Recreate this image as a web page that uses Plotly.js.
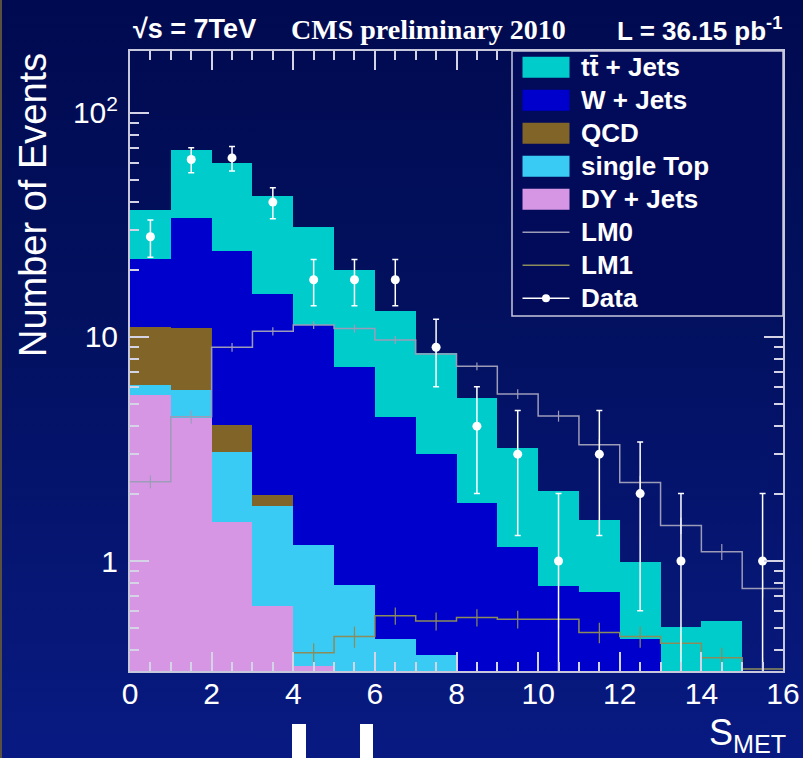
<!DOCTYPE html>
<html>
<head>
<meta charset="utf-8">
<script src="https://cdn.plot.ly/plotly-3.0.1.min.js"></script>
<style>
  html, body { margin: 0; padding: 0; }
  body {
    width: 803px; height: 758px; overflow: hidden;
    background: linear-gradient(to bottom, #000a50 0%, #02105e 40%, #081a82 100%);
    box-shadow: inset 2px 0 0 #5a5040;
  }
  #chart { width: 803px; height: 758px; }
</style>
</head>
<body>
<div id="chart"></div>
<script>
// ---------------- data ----------------
const binLow = [0, 1, 2, 3, 4, 5, 6, 7, 8, 9, 10, 11, 12, 13, 14, 15];
const binEdges = [0, 1, 2, 3, 4, 5, 6, 7, 8, 9, 10, 11, 12, 13, 14, 15, 16];

// stacked MC components (bottom to top)
const dyJets    = [5.5, 4.34, 1.5, 0.63, 0.34, 0, 0, 0, 0, 0, 0, 0, 0, 0, 0, 0];
const singleTop = [0.6, 1.46, 1.58, 1.13, 0.84, 0.78, 0.45, 0.38, 0, 0, 0, 0, 0, 0, 0, 0];
const qcd       = [4.95, 5.2, 0.97, 0.21, 0, 0, 0, 0, 0, 0, 0, 0, 0, 0, 0, 0];
const wJets     = [11.25, 22.9, 20.25, 13.6, 10.1, 6.6, 3.96, 2.61, 1.81, 1.16, 0.77, 0.73, 0.45, 0, 0, 0];
const ttJets    = [14.6, 34.5, 35.3, 27.0, 19.8, 12.6, 8.6, 5.47, 3.52, 2.04, 1.29, 0.79, 0.54, 0.51, 0.54, 0];

// SUSY benchmark points (step lines)
const lm0    = [2.26, 4.4, 9.0, 10.6, 11.3, 10.9, 9.7, 8.4, 7.4, 5.57, 4.44, 3.3, 2.24, 1.44, 1.1, 0.755];
const lm0Err = [0.15, 0.3, 0.4, 0.45, 0.45, 0.45, 0.4, 0.35, 0.3, 0.28, 0.25, 0.2, 0.16, 0.12, 0.09, 0.07];
const lm1    = [0.15, 0.18, 0.22, 0.26, 0.39, 0.46, 0.57, 0.54, 0.56, 0.55, 0.55, 0.48, 0.46, 0.43, 0.37, 0.33];
const lm1Err = [0.02, 0.02, 0.03, 0.03, 0.04, 0.05, 0.05, 0.05, 0.05, 0.05, 0.05, 0.05, 0.05, 0.04, 0.04, 0.04];

// observed data
const dataCounts = [28, 62, 63, 40, 18, 18, 18, 9, 4, 3, 1, 3, 2, 1, 0, 1];
const dataErr    = [5.3, 7.9, 7.9, 6.3, 4.2, 4.2, 4.2, 3.0, 2.0, 1.7, 1.0, 1.7, 1.4, 1.0, 0, 1.0];

// axis ticks
const xTickVals = [0, 2, 4, 6, 8, 10, 12, 14, 16];
const xMinorVals = [0.5, 1, 1.5, 2.5, 3, 3.5, 4.5, 5, 5.5, 6.5, 7, 7.5, 8.5, 9, 9.5, 10.5, 11, 11.5, 12.5, 13, 13.5, 14.5, 15, 15.5];
const yTickVals = [1, 10, 100];
const yTickText = ['1', '10', '10<sup>2</sup>'];
const yMinorVals = [0.4, 0.5, 0.6, 0.7, 0.8, 0.9, 2, 3, 4, 5, 6, 7, 8, 9, 20, 30, 40, 50, 60, 70, 80, 90];

const legendNames = ['tt\u0304 + Jets', 'W + Jets', 'QCD', 'single Top', 'DY + Jets', 'LM0', 'LM1', 'Data'];

// ---------------- styles ----------------
const C = {
  tt: '#00cccc', w: '#0000cc', qcd: '#806428', st: '#3acbf5', dy: '#d696e4',
  lm0: '#9c9cb8', lm1: '#8c8c5a', data: '#ffffff', frame: '#c8c8dc', tick: '#d4d4e6', text: '#ffffff'
};
const SANS = 'Liberation Sans, Arial, Helvetica, sans-serif';
const SERIF = 'Liberation Serif, Times New Roman, serif';

const centers = binLow.map(v => v + 0.5);
const stepY = arr => arr.concat([arr[arr.length - 1]]);

function barTrace(name, y, color) {
  return {
    type: 'bar', name: name, x: centers, y: y, width: 1,
    marker: { color: color, line: { width: 0 } },
    showlegend: false, hoverinfo: 'name+y'
  };
}

const traces = [
  barTrace(legendNames[4], dyJets, C.dy),
  barTrace(legendNames[3], singleTop, C.st),
  barTrace(legendNames[2], qcd, C.qcd),
  barTrace(legendNames[1], wJets, C.w),
  barTrace(legendNames[0], ttJets, C.tt),
  { type: 'scatter', mode: 'lines', name: 'LM0', x: binEdges, y: stepY(lm0),
    line: { shape: 'hv', color: C.lm0, width: 1.5 }, showlegend: false },
  { type: 'scatter', mode: 'markers', name: 'LM0 err', x: centers, y: lm0,
    marker: { size: 1, color: 'rgba(0,0,0,0)' },
    error_y: { type: 'data', array: lm0Err, visible: true, color: C.lm0, thickness: 1.2, width: 0 },
    showlegend: false, hoverinfo: 'skip' },
  { type: 'scatter', mode: 'lines', name: 'LM1', x: binEdges, y: stepY(lm1),
    line: { shape: 'hv', color: C.lm1, width: 1.5 }, showlegend: false },
  { type: 'scatter', mode: 'markers', name: 'LM1 err', x: centers, y: lm1,
    marker: { size: 1, color: 'rgba(0,0,0,0)' },
    error_y: { type: 'data', array: lm1Err, visible: true, color: C.lm1, thickness: 1.2, width: 0 },
    showlegend: false, hoverinfo: 'skip' },
  { type: 'scatter', mode: 'markers', name: 'Data', x: centers, y: dataCounts,
    marker: { size: 9, color: C.data },
    error_y: { type: 'data', array: dataErr, visible: true, color: C.data, thickness: 1.5, width: 3 },
    showlegend: false }
];

// pixel helpers for decorations (plot area: x 130..783, y 51..671)
const PL = 130, PR = 783, PT = 51, PB = 671;
const px = x => (x - PL) / (PR - PL);
const py = y => (PB - y) / (PB - PT);

const shapes = [];
const annotations = [];

// legend box
shapes.push({ type: 'rect', xref: 'paper', yref: 'paper', layer: 'above',
  x0: px(512), x1: px(783), y0: py(316), y1: py(51),
  fillcolor: '#020b5a', line: { color: C.frame, width: 1.5 } });

const rowY0 = 67.3, rowStep = 33;
const swatchColors = [C.tt, C.w, C.qcd, C.st, C.dy];
legendNames.forEach((nm, i) => {
  const yc = rowY0 + rowStep * i;
  if (i < 5) {
    shapes.push({ type: 'rect', xref: 'paper', yref: 'paper', layer: 'above',
      x0: px(522.5), x1: px(569.5), y0: py(yc + 10.5), y1: py(yc - 10.5),
      fillcolor: swatchColors[i], line: { width: 0 } });
  } else {
    const col = i === 5 ? C.lm0 : (i === 6 ? C.lm1 : C.data);
    shapes.push({ type: 'line', xref: 'paper', yref: 'paper', layer: 'above',
      x0: px(522.5), x1: px(569.5), y0: py(yc), y1: py(yc),
      line: { color: col, width: 1.5 } });
    if (i === 7) {
      shapes.push({ type: 'circle', xref: 'paper', yref: 'paper', layer: 'above',
        x0: px(542), x1: px(550), y0: py(yc + 4), y1: py(yc - 4),
        fillcolor: C.data, line: { width: 0 } });
    }
  }
  annotations.push({ xref: 'paper', yref: 'paper', x: px(579), y: py(yc),
    xanchor: 'left', yanchor: 'middle', showarrow: false, text: nm,
    font: { family: SANS, size: 26, color: C.text, weight: 'bold' } });
});

// header texts
annotations.push({ xref: 'paper', yref: 'paper', x: px(131), y: py(29), xanchor: 'left', yanchor: 'middle',
  showarrow: false, text: '\u221As = 7TeV', font: { family: SANS, size: 27, color: C.text, weight: 'bold' } });
annotations.push({ xref: 'paper', yref: 'paper', x: px(289), y: py(29), xanchor: 'left', yanchor: 'middle',
  showarrow: false, text: 'CMS preliminary 2010', font: { family: SERIF, size: 28, color: C.text, weight: 'bold' } });
annotations.push({ xref: 'paper', yref: 'paper', x: px(784), y: py(29), xanchor: 'right', yanchor: 'middle',
  showarrow: false, text: 'L = 36.15 pb<sup>-1</sup>', font: { family: SANS, size: 26, color: C.text, weight: 'bold' } });

// axis titles
annotations.push({ xref: 'paper', yref: 'paper', x: px(33), y: py(205), xanchor: 'center', yanchor: 'middle',
  showarrow: false, textangle: -90, text: 'Number of Events', font: { family: SANS, size: 38, color: C.text } });
annotations.push({ xref: 'paper', yref: 'paper', x: px(788), y: py(735), xanchor: 'right', yanchor: 'middle',
  showarrow: false, text: 'S<sub>MET</sub>', font: { family: SANS, size: 36, color: C.text } });

// white marks at the bottom edge of the slide
shapes.push({ type: 'rect', xref: 'paper', yref: 'paper', layer: 'above',
  x0: px(292), x1: px(306), y0: py(760), y1: py(724), fillcolor: '#ffffff', line: { width: 0 } });
shapes.push({ type: 'rect', xref: 'paper', yref: 'paper', layer: 'above',
  x0: px(360), x1: px(373), y0: py(760), y1: py(724), fillcolor: '#ffffff', line: { width: 0 } });

const axisCommon = {
  showgrid: false, zeroline: false, showline: true, linecolor: C.frame, linewidth: 2,
  mirror: 'allticks', ticks: 'inside', tickcolor: C.tick, tickwidth: 2, ticklen: 19,
  layer: 'above traces',
  tickfont: { family: SANS, size: 30, color: C.text }
};
const minorCommon = { tickmode: 'array', ticks: 'inside', ticklen: 9, tickcolor: C.tick, tickwidth: 2 };

const layout = {
  width: 803, height: 758,
  margin: { l: PL, r: 803 - PR, t: PT, b: 758 - PB, pad: 0 },
  paper_bgcolor: 'rgba(0,0,0,0)', plot_bgcolor: 'rgba(0,0,0,0)',
  barmode: 'stack', bargap: 0, showlegend: false,
  xaxis: Object.assign({}, axisCommon, {
    range: [0, 16], tickmode: 'array', tickvals: xTickVals, ticklabelstandoff: -5,
    minor: Object.assign({}, minorCommon, { tickvals: xMinorVals })
  }),
  yaxis: Object.assign({}, axisCommon, {
    type: 'log', range: [Math.log10(0.323), Math.log10(189)],
    tickmode: 'array', tickvals: yTickVals, ticktext: yTickText, ticklabelstandoff: 4,
    minor: Object.assign({}, minorCommon, { tickvals: yMinorVals })
  }),
  shapes: shapes,
  annotations: annotations
};

Plotly.newPlot('chart', traces, layout, { staticPlot: true, displayModeBar: false });
</script>
</body>
</html>
